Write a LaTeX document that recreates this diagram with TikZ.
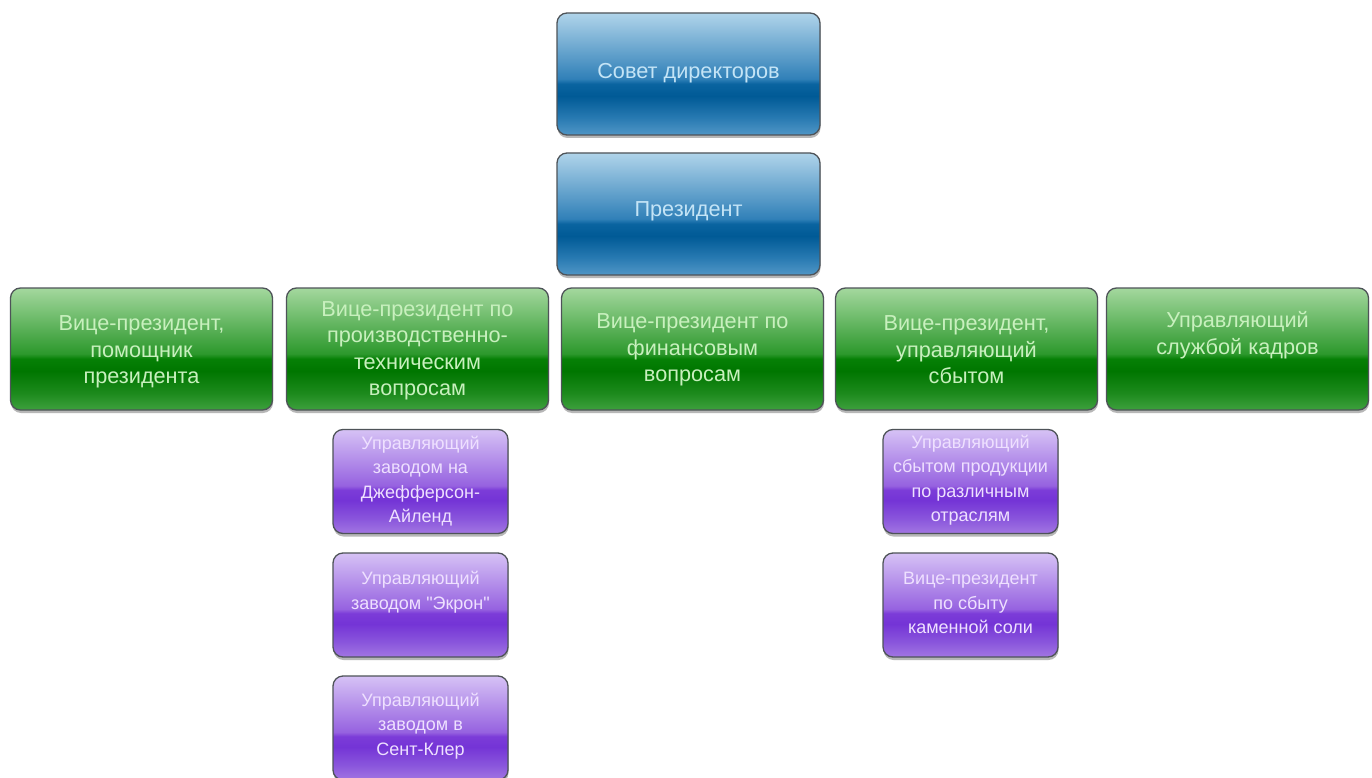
\documentclass[tikz,border=0pt]{standalone}
\usepackage{fontspec}
\setmainfont{Liberation Sans}
\usetikzlibrary{shadows,calc}

\definecolor{boxline}{HTML}{4E5358}
\definecolor{bluetext}{HTML}{C4E4F6}
\definecolor{greentext}{HTML}{C8F0BE}
\definecolor{purpletext}{HTML}{EEE0FF}

\pgfdeclareverticalshading{blueglass}{100bp}{
  color(0bp)=(rgb,255:red,80;green,150;blue,198);
  color(25bp)=(rgb,255:red,80;green,150;blue,198);
  color(32bp)=(rgb,255:red,40;green,122;blue,178);
  color(41bp)=(rgb,255:red,0;green,90;blue,150);
  color(46bp)=(rgb,255:red,10;green,100;blue,160);
  color(48bp)=(rgb,255:red,48;green,128;blue,184);
  color(75bp)=(rgb,255:red,176;green,212;blue,234);
  color(100bp)=(rgb,255:red,176;green,212;blue,234)}
\pgfdeclareverticalshading{greenglass}{100bp}{
  color(0bp)=(rgb,255:red,62;green,160;blue,62);
  color(25bp)=(rgb,255:red,62;green,160;blue,62);
  color(32bp)=(rgb,255:red,28;green,138;blue,28);
  color(41bp)=(rgb,255:red,0;green,118;blue,0);
  color(46bp)=(rgb,255:red,6;green,128;blue,6);
  color(48bp)=(rgb,255:red,44;green,152;blue,44);
  color(75bp)=(rgb,255:red,164;green,216;blue,158);
  color(100bp)=(rgb,255:red,164;green,216;blue,158)}
\pgfdeclareverticalshading{purpleglass}{100bp}{
  color(0bp)=(rgb,255:red,162;green,118;blue,226);
  color(25bp)=(rgb,255:red,162;green,118;blue,226);
  color(32bp)=(rgb,255:red,138;green,86;blue,220);
  color(41bp)=(rgb,255:red,116;green,52;blue,214);
  color(46bp)=(rgb,255:red,124;green,60;blue,216);
  color(48bp)=(rgb,255:red,150;green,98;blue,224);
  color(75bp)=(rgb,255:red,214;green,194;blue,245);
  color(100bp)=(rgb,255:red,214;green,194;blue,245)}

\tikzset{
  orgbox/.style={rectangle, rounded corners=10pt, draw=boxline, line width=1.3pt,
    inner sep=0pt, shading angle=0,
    drop shadow={shadow xshift=0.5pt, shadow yshift=-3pt, opacity=0.4, fill=black!70}},
  bluebox/.style={orgbox, shading=blueglass, minimum width=263pt, minimum height=122pt},
  greenbox/.style={orgbox, shading=greenglass, minimum width=262pt, minimum height=122pt},
  purplebox/.style={orgbox, shading=purpleglass, minimum width=175pt, minimum height=104pt},
  btxt/.style={align=center, text=bluetext, font=\fontsize{21.7}{26.5}\selectfont, inner sep=0pt},
  gtxt/.style={align=center, text=greentext, font=\fontsize{21.7}{26.5}\selectfont, inner sep=0pt},
  ptxt/.style={align=center, text=purpletext, font=\fontsize{18}{24.5}\selectfont, inner sep=0pt},
}

\begin{document}
\begin{tikzpicture}[x=1pt, y=-1pt]
\useasboundingbox[fill=white] (0,0) rectangle (1372,778);

% top
\node[bluebox] (board) at (688.5,74) {};
\node[btxt] (boardt) at (688.5,73) {Совет директоров};
\node[bluebox] (pres) at (688.5,214) {};
\node[btxt] (prest) at (688.5,211) {Президент};

% green row
\node[greenbox] (g1) at (141.5,349) {};
\node[gtxt] (g1t) at (141.5,352) {Вице-президент,\\помощник\\президента};
\node[greenbox] (g2) at (417.5,349) {};
\node[gtxt] (g2t) at (417.5,351) {Вице-президент по\\производственно-\\техническим\\вопросам};
\node[greenbox] (g3) at (692.5,349) {};
\node[gtxt] (g3t) at (692.5,350) {Вице-президент по\\финансовым\\вопросам};
\node[greenbox] (g4) at (966.5,349) {};
\node[gtxt] (g4t) at (966.5,350) {Вице-президент,\\управляющий\\сбытом};
\node[greenbox] (g5) at (1237.5,349) {};
\node[gtxt] (g5t) at (1237.5,335) {Управляющий\\службой кадров};

% purple left
\node[purplebox] (p1) at (420.5,481.5) {};
\node[ptxt] (p1t) at (420.5,481) {Управляющий\\заводом на\\Джефферсон-\\Айленд};
\node[purplebox] (p2) at (420.5,605) {};
\node[ptxt] (p2t) at (420.5,592) {Управляющий\\заводом \textquotedbl Экрон\textquotedbl};
\node[purplebox] (p3) at (420.5,728) {};
\node[ptxt] (p3t) at (420.5,726) {Управляющий\\заводом в\\Сент-Клер};

% purple right
\node[purplebox] (q1) at (970.5,481.5) {};
\node[ptxt] (q1t) at (970.5,480) {Управляющий\\сбытом продукции\\по различным\\отраслям};
\node[purplebox] (q2) at (970.5,605) {};
\node[ptxt] (q2t) at (970.5,603) {Вице-президент\\по сбыту\\каменной соли};
\end{tikzpicture}
\end{document}
